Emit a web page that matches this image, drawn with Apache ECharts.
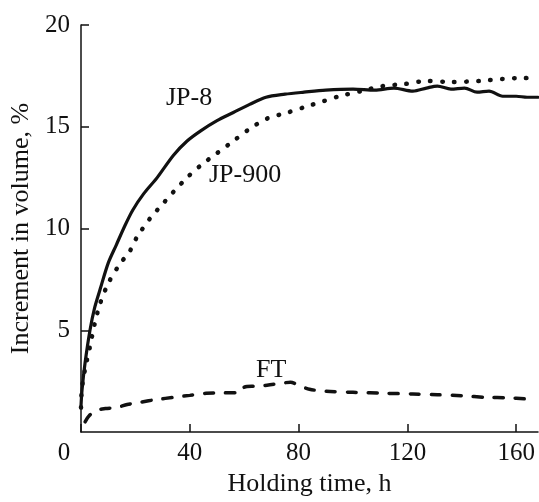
<!DOCTYPE html>
<html><head><meta charset="utf-8">
<script src="https://cdn.jsdelivr.net/npm/echarts@6/dist/echarts.min.js"></script>
<style>html,body{margin:0;padding:0;background:#fff}#c{width:539px;height:502px}</style>
</head><body><div id="c"></div>
<script>
var jp8 = [[0,1.3],[0.4,2.1],[1.5,3.4],[3.3,5.0],[5,6.1],[7,7.0],[10,8.3],[13,9.2],[16,10.1],[19,10.9],[23,11.7],[28,12.5],[34,13.6],[39,14.3],[44,14.8],[50,15.3],[56,15.7],[62,16.1],[68,16.45],[75,16.6],[82,16.7],[90,16.8],[100,16.85],[108,16.8],[115,16.9],[122,16.75],[127,16.9],[131,17.0],[136,16.85],[141,16.9],[145.6,16.7],[150,16.75],[155,16.5],[160,16.5],[164,16.45],[168,16.45]];
var jp900 = [[0,1.2],[0.3,2.1],[1.5,3.1],[3.3,4.2],[5,5.3],[7,6.3],[10,7.3],[14,8.2],[18,8.9],[20.5,9.56],[25.4,10.5],[30,11.2],[34,11.8],[39,12.5],[44,13.1],[50,13.7],[56,14.3],[62,14.9],[68.4,15.4],[76,15.7],[83,16.0],[89,16.25],[95,16.5],[103,16.75],[111,17.0],[119,17.1],[127,17.25],[136,17.2],[146.7,17.25],[155,17.35],[162.5,17.4],[168,17.35]];
var ft = [[1.5,0.5],[3,0.8],[5.9,1.07],[9,1.15],[13,1.2],[17,1.35],[21.7,1.46],[28,1.6],[34,1.7],[40,1.8],[46,1.9],[52,1.92],[58.5,1.95],[60,2.2],[64,2.25],[68.4,2.3],[74,2.4],[77,2.45],[80,2.3],[84,2.1],[90,2.0],[100,1.95],[112.5,1.9],[122,1.87],[131,1.83],[140,1.78],[149,1.7],[157,1.68],[164,1.62]];
var xTicks = [0,40,80,120,160];
var yTicks = [5,10,15,20];
var seriesNames = ['JP-8','JP-900','FT'];

var font = 'Liberation Serif';
var chart = echarts.init(document.getElementById('c'));
function lineSeries(name, data, type, w) {
  return {name:name, type:'line', data:data, showSymbol:false, smooth:0.3,
    lineStyle:{color:'#111', width:w, type:type, cap:'round'}, z:3, silent:true};
}
chart.setOption({
  animation:false,
  grid:{left:81,right:1,top:25,bottom:65},
  xAxis:{type:'value',min:0,max:168,interval:40,
    name:'Holding time, h',nameLocation:'middle',nameGap:39,
    nameTextStyle:{fontFamily:font,fontSize:26,color:'#111'},
    axisLine:{lineStyle:{color:'#111',width:1.5}},
    axisTick:{inside:true,length:8,lineStyle:{color:'#111',width:1.5}},
    axisLabel:{showMaxLabel:false,fontFamily:font,fontSize:25,color:'#111',margin:9,
      formatter:function(v){return v===0?'{o|0}':String(v);},
      rich:{o:{fontFamily:font,fontSize:25,color:'#111',padding:[0,34,0,0]}}},
    splitLine:{show:false}},
  yAxis:{type:'value',min:0,max:20,interval:5,
    name:'Increment in volume, %',nameLocation:'middle',nameGap:45,
    nameTextStyle:{fontFamily:font,fontSize:26,color:'#111'},
    axisLine:{show:true,lineStyle:{color:'#111',width:1.5}},
    axisTick:{inside:true,length:8,lineStyle:{color:'#111',width:1.5}},
    axisLabel:{showMinLabel:false,fontFamily:font,fontSize:25,color:'#111',margin:11},
    splitLine:{show:false}},
  series:[
    lineSeries(seriesNames[0], jp8, 'solid', 3.2),
    lineSeries(seriesNames[1], jp900, [0.5,11.5], 4.5),
    lineSeries(seriesNames[2], ft, [9,12], 3.5)
  ],
  graphic:[
    {type:'text',left:166,top:85,style:{text:'JP-8',font:'26px '+font,fill:'#111'}},
    {type:'text',left:209,top:162,style:{text:'JP-900',font:'26px '+font,fill:'#111'}},
    {type:'text',left:256,top:357,style:{text:'FT',font:'26px '+font,fill:'#111'}}
  ]
});
</script></body></html>
